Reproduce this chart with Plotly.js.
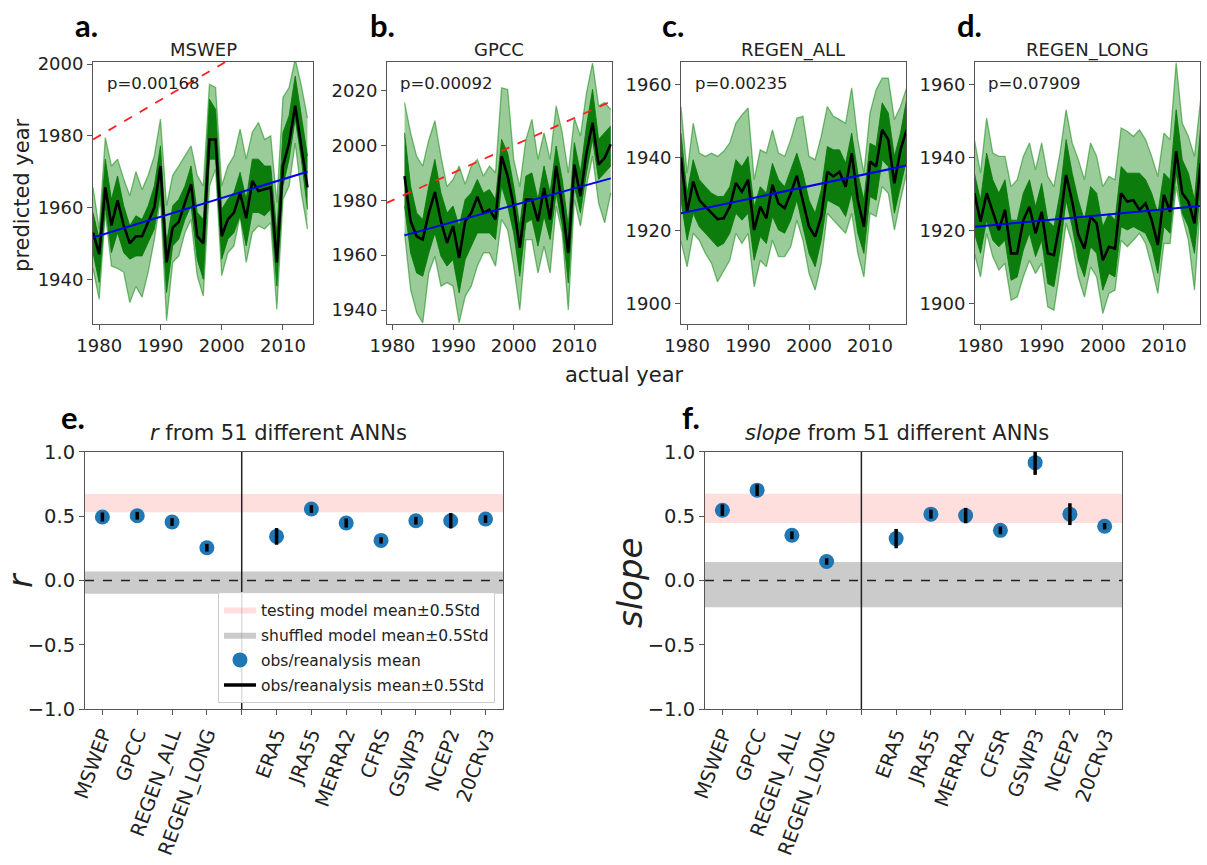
<!DOCTYPE html>
<html><head><meta charset="utf-8">
<script src="https://cdn.plot.ly/plotly-3.0.1.min.js"></script>
<style>html,body{margin:0;padding:0;background:#fff}#chart{width:1207px;height:865px}</style>
</head><body><div id="chart"></div>
<script>
// ---------- top row data (predicted year vs actual year) ----------
const years_a = [1979,1980,1981,1982,1983,1984,1985,1986,1987,1988,1989,1990,1991,1992,1993,1994,1995,1996,1997,1998,1999,2000,2001,2002,2003,2004,2005,2006,2007,2008,2009,2010,2011,2012,2013,2014];
const a_mean = [1953,1947,1965.6,1955,1962,1955,1950,1952,1952,1956,1960,1971.6,1944.7,1954.4,1956,1961.4,1966.5,1952,1950,1979,1979,1952,1956.7,1958.6,1964,1957,1967.4,1964.6,1965,1965.6,1944.7,1971.6,1978,1988.4,1977,1965.6];
const a_hi = [1965.6,1954,1979.5,1971.6,1973.5,1968,1963.3,1970,1965,1969,1974.4,1984.7,1960.5,1969,1971.6,1974.4,1977.2,1969,1966,1994.4,1993.5,1966,1971.6,1974.4,1981.9,1973.5,1981,1983.7,1979,1980,1961.4,1990.7,1993.5,2001.4,1994,1985];
const a_lo = [1943,1934.4,1958.6,1943.7,1943,1942,1933.5,1938,1935,1942,1951,1962.3,1928.4,1944.7,1946.5,1953,1956.7,1941,1935.3,1966,1970.7,1941,1947.4,1949.3,1957.7,1944.7,1953,1954.9,1954,1955.8,1931.6,1962.3,1966,1978,1964,1954];
const a_core_hi = [1958.6,1951.2,1973.5,1962.3,1968.8,1960.5,1954.9,1957.7,1956.7,1960.5,1966,1977.2,1950.2,1960.5,1962.3,1966,1971.6,1958.6,1956.7,1990.2,1987.4,1959.5,1962.3,1964.2,1969.8,1962.3,1973.5,1973.5,1971.6,1971.6,1953,1980.9,1985.6,1996.7,1985.6,1974.4];
const a_core_lo = [1947.4,1939.1,1960.5,1947.4,1953,1947.4,1945.6,1946.5,1946.5,1950.2,1954,1964.2,1936.3,1949.3,1951.2,1956.7,1960.5,1945.6,1940,1973.5,1973.5,1945.6,1951.2,1953,1957.7,1949.3,1958.6,1958.6,1957.7,1959.5,1938.1,1966,1973.5,1984.7,1973.5,1959.5];

const years_b = [1982,1983,1984,1985,1986,1987,1988,1989,1990,1991,1992,1993,1994,1995,1996,1997,1998,1999,2000,2001,2002,2003,2004,2005,2006,2007,2008,2009,2010,2011,2012,2013,2014,2015,2016];
const b_mean = [1988.8,1972.4,1966.9,1965.7,1975.4,1983,1972.4,1964.5,1970.6,1959,1972.4,1975.4,1981.3,1975.4,1976.6,1973,1996.1,1988.8,1977.9,1962.7,1980.3,1980.3,1972.4,1984.5,1973,1992.5,1977.9,1960.8,1993,1981.5,1997.3,2008.3,1993,1995.5,2000.4];
const b_hi = [2015.6,2004.6,1996,1992.5,2002,2009,1996,1985,1987.6,1992.5,1985.8,1992.5,1994.9,1988.8,1992.5,1990,2021,2020.4,1994.9,1985,2002,2009.5,1994.9,2004.6,1994.9,2014.4,2004.6,1990,2010,2003.4,2019.2,2030,2014.4,2015.6,2013.1];
const b_lo = [1968,1947.4,1939,1935.3,1953.5,1959.6,1948.7,1950,1948.7,1935.3,1945,1948.7,1956,1960.8,1960.8,1956,1973,1969.3,1956,1940,1965.7,1965.7,1953.5,1963.3,1953.5,1977.9,1968,1940,1980.3,1970.6,1985.2,1996.1,1979,1971.8,1982.7];
const b_core_hi = [2004.6,1985.2,1975.4,1973,1985.2,1994.9,1982.7,1975.4,1977.9,1970.6,1980.3,1982.7,1987.6,1982.7,1983.9,1980.3,2002.2,1997.3,1985.2,1970.6,1988.8,1990,1980.3,1992.5,1982.7,1999.8,1987.6,1970.6,2001,1990,2007.1,2020.4,2002.2,2004.6,2007.1];
const b_core_lo = [1977.9,1960.8,1953.5,1952.3,1960.8,1968.1,1959.6,1956,1958.4,1946.2,1958.4,1963.3,1968.1,1968.1,1968.1,1965.7,1985.2,1977.9,1968.1,1952.3,1971.8,1973,1963.3,1974.2,1965.7,1982.7,1970.6,1949.9,1985.2,1975.4,1990,2002.2,1987.6,1990,1992.5];

const years_cd = [1979,1980,1981,1982,1983,1984,1985,1986,1987,1988,1989,1990,1991,1992,1993,1994,1995,1996,1997,1998,1999,2000,2001,2002,2003,2004,2005,2006,2007,2008,2009,2010,2011,2012,2013,2014,2015,2016];
const c_mean = [1940,1925,1933.4,1928.3,1926.5,1924.7,1923.1,1923.3,1926.5,1933,1930.6,1933.9,1920.1,1926.5,1923.3,1932.5,1927.4,1926.1,1930.2,1935,1928.3,1921,1918.3,1923.8,1936.1,1934.8,1936.1,1932,1941.2,1928.3,1921,1938.9,1937.5,1947.6,1944.9,1932.9,1942.1,1947.6];
const c_hi = [1954,1935.7,1949.4,1941.2,1940.3,1941.2,1940.3,1941.7,1944,1949.4,1951.7,1953.6,1933.9,1942.1,1941.2,1947.6,1941.2,1940.3,1944.9,1950.8,1951.3,1940.3,1939.4,1945.8,1954,1951.3,1950.4,1949.4,1959.1,1944.9,1935.7,1952.2,1958.6,1961.8,1961.8,1950.4,1954,1959.1];
const c_lo = [1917,1910,1919.2,1917.3,1913.7,1911,1905.9,1909,1911.8,1919.2,1916.4,1919.2,1904.5,1911.8,1910,1917.3,1912.8,1912.8,1915.5,1922.8,1917.3,1908.2,1903.6,1911,1924.7,1922.8,1921,1919.2,1924.7,1913.7,1907.2,1924.7,1923.8,1932,1930.2,1920.1,1928.3,1935.7];
const c_core_hi = [1946.7,1930.2,1939.4,1933.9,1932,1930.2,1929.3,1929.3,1932,1939.4,1937.5,1940.3,1926.5,1932,1930.2,1938.4,1933.9,1932,1936.6,1941.2,1935.7,1928.3,1924.7,1931.1,1943,1942.1,1942.1,1938.4,1946.7,1935.7,1928.3,1943.9,1943,1955,1952.2,1940.3,1946.7,1955.9];
const c_core_lo = [1928.3,1917.3,1924.7,1921,1919.2,1917.3,1915.5,1916.4,1919.2,1924.7,1922.8,1924.7,1911.8,1918.3,1916.4,1923.8,1920.1,1919.2,1922.8,1928.3,1921,1913.7,1910,1917.3,1928.3,1927.4,1926.5,1923.8,1930.2,1919.2,1913.7,1929.3,1928.3,1939.4,1937.5,1924.7,1932,1939.4];

const d_mean = [1930.2,1922.4,1930.2,1925.1,1920.1,1925.6,1913.7,1913.7,1922.8,1926.5,1919.2,1925.1,1913.7,1913.2,1922.4,1935.2,1927.9,1918.7,1915,1923.8,1921.9,1911.8,1915.5,1915,1930.2,1927.9,1928.3,1925.6,1927.4,1922.8,1916,1929.7,1925.1,1941.7,1930.2,1927.9,1921.9,1938.4];
const d_hi = [1944.9,1935.7,1950.8,1941.2,1940.3,1940.3,1932,1933.9,1940.3,1944,1936.6,1944,1934.8,1932,1941.2,1953.1,1944,1939.4,1933.9,1944,1940.3,1932,1934.8,1933.9,1948.1,1947.2,1945.8,1947.6,1944.9,1940.3,1934.8,1946.7,1944.9,1966,1949.4,1945.8,1940.3,1955.9];
const d_lo = [1913.7,1907.2,1919.2,1912.8,1909.1,1911,1900.8,1901.7,1907.2,1911.8,1908.2,1911,1899,1898.1,1909.1,1921.9,1916.4,1907.2,1901.7,1910,1907.2,1897.2,1902.7,1903.6,1917.3,1915.5,1917.3,1919.2,1916.4,1910,1902.7,1916.4,1916.4,1932,1923.8,1917.3,1903.6,1928.3];
const d_core_hi = [1935.7,1928.3,1941.2,1933.9,1930.2,1933.9,1922.8,1922.8,1930.2,1933.9,1926.5,1932.9,1922.8,1921,1930.2,1944.9,1935.7,1928.3,1922.8,1932,1930.2,1921,1924.7,1922.8,1937.5,1935.7,1935.7,1935.7,1933.9,1930.2,1924.7,1935.7,1933.9,1953.1,1939.4,1935.7,1928.3,1948.5];
const d_core_lo = [1919.2,1913.7,1922.8,1917.3,1915.5,1917.3,1906.3,1907.2,1914.6,1919.2,1912.8,1917.3,1905.4,1904.5,1914.6,1928.3,1921,1911.8,1907.2,1915.5,1913.7,1903.6,1908.2,1907.2,1921,1920.1,1921,1920.1,1919.2,1915.5,1908.2,1921,1919.2,1935.7,1924.7,1921,1913.7,1932];

// regression (trend) line end points
const trend_x_a = [1979, 2014], trend_y_a = [1951.6, 1970];
const trend_x_b = [1982, 2016], trend_y_b = [1967.2, 1988];
const trend_x_c = [1979, 2016], trend_y_c = [1924.7, 1937.8];
const trend_x_d = [1979, 2016], trend_y_d = [1921, 1926.7];
const one_to_one = [1979, 2016];

const panel_titles = ["MSWEP", "GPCC", "REGEN_ALL", "REGEN_LONG"];
const p_values = ["p=0.00168", "p=0.00092", "p=0.00235", "p=0.07909"];

// ---------- bottom row data ----------
const positions = [0, 1, 2, 3, 5, 6, 7, 8, 9, 10, 11];
const labels_e = ["MSWEP","GPCC","REGEN_ALL","REGEN_LONG","ERA5","JRA55","MERRA2","CFRS","GSWP3","NCEP2","20CRv3"];
const labels_f = ["MSWEP","GPCC","REGEN_ALL","REGEN_LONG","ERA5","JRA55","MERRA2","CFSR","GSWP3","NCEP2","20CRv3"];
const r_mean = [0.494, 0.504, 0.455, 0.255, 0.343, 0.556, 0.447, 0.312, 0.465, 0.465, 0.478];
const r_err  = [0.035, 0.03, 0.03, 0.03, 0.065, 0.03, 0.035, 0.025, 0.03, 0.06, 0.03];
const slope_mean = [0.547, 0.703, 0.352, 0.148, 0.326, 0.516, 0.505, 0.39, 0.917, 0.516, 0.422];
const slope_err  = [0.045, 0.045, 0.03, 0.025, 0.075, 0.035, 0.06, 0.03, 0.095, 0.085, 0.025];
const r_test_band = [0.53, 0.673], r_shuf_band = [-0.104, 0.07];
const slope_test_band = [0.448, 0.674], slope_shuf_band = [-0.208, 0.143];
const divider_pos = 4;
const cat_range = [-0.5, 11.5];

// ---------- build ----------
const FONT = "DejaVu Sans";
const traces = [];
function topPanel(k, xs, lo, hi, clo, chi, mean, tx, ty) {
  const xa = 'x' + (k === 1 ? '' : k), ya = 'y' + (k === 1 ? '' : k);
  const base = {xaxis: xa, yaxis: ya, showlegend: false, hoverinfo: 'skip', type: 'scatter', mode: 'lines'};
  traces.push(Object.assign({}, base, {x: xs, y: lo, line: {color: 'rgba(0,128,0,0.5)', width: 1.3}}));
  traces.push(Object.assign({}, base, {x: xs, y: hi, fill: 'tonexty', fillcolor: 'rgba(0,128,0,0.4)', line: {color: 'rgba(0,128,0,0.5)', width: 1.3}}));
  traces.push(Object.assign({}, base, {x: xs, y: clo, line: {color: 'rgba(0,120,0,0.8)', width: 1}}));
  traces.push(Object.assign({}, base, {x: xs, y: chi, fill: 'tonexty', fillcolor: 'rgba(0,118,0,0.92)', line: {color: 'rgba(0,120,0,0.8)', width: 1}}));
  traces.push(Object.assign({}, base, {x: xs, y: mean, line: {color: '#000', width: 2.6}}));
  traces.push(Object.assign({}, base, {x: tx, y: ty, line: {color: '#0000ee', width: 2}}));
  traces.push(Object.assign({}, base, {x: one_to_one, y: one_to_one, line: {color: '#ff2020', width: 1.8, dash: 'dash'}}));
}
topPanel(1, years_a, a_lo, a_hi, a_core_lo, a_core_hi, a_mean, trend_x_a, trend_y_a);
topPanel(2, years_b, b_lo, b_hi, b_core_lo, b_core_hi, b_mean, trend_x_b, trend_y_b);
topPanel(3, years_cd, c_lo, c_hi, c_core_lo, c_core_hi, c_mean, trend_x_c, trend_y_c);
topPanel(4, years_cd, d_lo, d_hi, d_core_lo, d_core_hi, d_mean, trend_x_d, trend_y_d);

function bottomPanel(k, mean, err, testBand, shufBand, legend) {
  const xa = 'x' + k, ya = 'y' + k;
  const bx = [cat_range[0], cat_range[1], cat_range[1], cat_range[0], cat_range[0]];
  traces.push({type: 'scatter', xaxis: xa, yaxis: ya, x: bx, y: [testBand[0], testBand[0], testBand[1], testBand[1], testBand[0]],
    fill: 'toself', fillcolor: 'rgba(255,90,90,0.2)', line: {width: 0, color: 'rgba(0,0,0,0)'}, mode: 'lines',
    name: 'testing model mean±0.5Std', showlegend: legend, legendgroup: 'g1', hoverinfo: 'skip'});
  traces.push({type: 'scatter', xaxis: xa, yaxis: ya, x: bx, y: [shufBand[0], shufBand[0], shufBand[1], shufBand[1], shufBand[0]],
    fill: 'toself', fillcolor: 'rgba(140,140,140,0.45)', line: {width: 0, color: 'rgba(0,0,0,0)'}, mode: 'lines',
    name: 'shuffled model mean±0.5Std', showlegend: legend, legendgroup: 'g2', hoverinfo: 'skip'});
  traces.push({type: 'scatter', xaxis: xa, yaxis: ya, x: positions, y: mean, mode: 'markers',
    marker: {color: '#1f77b4', size: 15}, name: 'obs/reanalysis mean', showlegend: legend, legendgroup: 'g3'});
  const ex = [], ey = [];
  positions.forEach((p, i) => { ex.push(p, p, null); ey.push(mean[i] - err[i], mean[i] + err[i], null); });
  traces.push({type: 'scatter', xaxis: xa, yaxis: ya, x: ex, y: ey, mode: 'lines', line: {color: '#000', width: 3.5},
    name: 'obs/reanalysis mean±0.5Std', showlegend: legend, legendgroup: 'g4', hoverinfo: 'skip'});
}
bottomPanel(5, r_mean, r_err, r_test_band, r_shuf_band, true);
bottomPanel(6, slope_mean, slope_err, slope_test_band, slope_shuf_band, false);

const axBase = {showline: true, mirror: true, linecolor: '#555', linewidth: 1, ticks: 'outside', ticklen: 5, tickcolor: '#555',
  showgrid: false, zeroline: false, tickfont: {family: FONT, size: 18, color: '#222'}};
function ax(extra) { return Object.assign({}, axBase, extra); }
const yearTicks = [1980, 1990, 2000, 2010];
const topY = [0.6254, 0.9283];
const botY = [0.1803, 0.4775];
const tickv = [0,1,2,3,4,5,6,7,8,9,10,11];

const layout = {
  width: 1207, height: 865, margin: {l: 0, r: 0, t: 0, b: 0}, paper_bgcolor: '#fff', plot_bgcolor: '#fff',
  font: {family: FONT, color: '#222'},
  xaxis:  ax({domain: [0.0771, 0.2593], range: [1979, 2014.9], tickvals: yearTicks, anchor: 'y'}),
  yaxis:  ax({domain: topY, range: [1927.5, 2000.6], tickvals: [1940, 1960, 1980, 2000], anchor: 'x'}),
  xaxis2: ax({domain: [0.3206, 0.5070], range: [1979.1, 2016.2], tickvals: yearTicks, anchor: 'y2'}),
  yaxis2: ax({domain: topY, range: [1934.9, 2030.4], tickvals: [1940, 1960, 1980, 2000, 2020], anchor: 'x2'}),
  xaxis3: ax({domain: [0.5642, 0.7506], range: [1979, 2015.9], tickvals: yearTicks, anchor: 'y3'}),
  yaxis3: ax({domain: topY, range: [1894.3, 1966.2], tickvals: [1900, 1920, 1940, 1960], anchor: 'x3'}),
  xaxis4: ax({domain: [0.8078, 0.9942], range: [1979.1, 2015.9], tickvals: yearTicks, anchor: 'y4'}),
  yaxis4: ax({domain: topY, range: [1894.3, 1966.2], tickvals: [1900, 1920, 1940, 1960], anchor: 'x4'}),
  xaxis5: ax({domain: [0.0704, 0.4167], range: cat_range, tickvals: tickv, ticktext: labels_e.slice(0,4).concat([''], labels_e.slice(4)),
    tickangle: -70, anchor: 'y5', tickfont: {family: FONT, size: 19.5, color: '#222'}}),
  yaxis5: ax({domain: botY, range: [-1, 1], tickvals: [-1, -0.5, 0, 0.5, 1], tickformat: '.1f', anchor: 'x5', tickfont: {family: FONT, size: 19.5, color: '#222'}}),
  xaxis6: ax({domain: [0.5841, 0.9296], range: cat_range, tickvals: tickv, ticktext: labels_f.slice(0,4).concat([''], labels_f.slice(4)),
    tickangle: -70, anchor: 'y6', tickfont: {family: FONT, size: 19.5, color: '#222'}}),
  yaxis6: ax({domain: botY, range: [-1, 1], tickvals: [-1, -0.5, 0, 0.5, 1], tickformat: '.1f', anchor: 'x6', tickfont: {family: FONT, size: 19.5, color: '#222'}}),
  showlegend: true,
  legend: {x: 0.1806, y: 0.3156, xanchor: 'left', yanchor: 'top', bgcolor: 'rgba(255,255,255,0.85)', bordercolor: '#ccc', borderwidth: 1,
    font: {family: FONT, size: 15.5, color: '#222'}, tracegroupgap: 2, itemwidth: 32},
  shapes: [],
  annotations: []
};
['5', '6'].forEach(k => {
  layout.shapes.push({type: 'line', xref: 'x' + k, yref: 'y' + k + ' domain', x0: divider_pos, x1: divider_pos, y0: 0, y1: 1, line: {color: '#222', width: 1.5}});
  layout.shapes.push({type: 'line', xref: 'x' + k, yref: 'y' + k, x0: cat_range[0], x1: cat_range[1], y0: 0, y1: 0, line: {color: '#222', width: 1.6, dash: 'dash'}});
});
function ann(x, y, text, size, extra) {
  layout.annotations.push(Object.assign({xref: 'paper', yref: 'paper', x: x, y: y, text: text, showarrow: false,
    font: {family: FONT, size: size, color: '#222'}, xanchor: 'center', yanchor: 'middle'}, extra || {}));
}
// panel letters
[[0.0713, 0.9711, 'a.'], [0.3165, 0.9711, 'b.'], [0.5576, 0.9711, 'c.'], [0.8036, 0.9711, 'd.'], [0.0605, 0.5179, 'e.'], [0.5725, 0.5179, 'f.']]
  .forEach(p => ann(p[0], p[1], '<b>' + p[2] + '</b>', 31, {font: {family: 'Lato', size: 31, color: '#000'}}));
// panel titles and p-values
const titleX = [0.1682, 0.4138, 0.657, 0.901];
const pX = [0.0870, 0.3297, 0.5741, 0.8169];
panel_titles.forEach((t, i) => ann(titleX[i], 0.9422, t, 18));
p_values.forEach((t, i) => ann(pX[i], 0.904, t, 16.5, {xanchor: 'left'}));
ann(0.0182, 0.7746, 'predicted year', 21, {textangle: -90});
ann(0.5178, 0.5665, 'actual year', 21);
ann(0.2311, 0.4994, '<i>r</i> from 51 different ANNs', 21);
ann(0.7429, 0.4994, '<i>slope</i> from 51 different ANNs', 21);
ann(0.0175, 0.3295, '<i>r</i>', 33, {textangle: -90});
ann(0.5220, 0.326, '<i>slope</i>', 34, {textangle: -90});

Plotly.newPlot('chart', traces, layout, {displayModeBar: false, staticPlot: true});
</script></body></html>
